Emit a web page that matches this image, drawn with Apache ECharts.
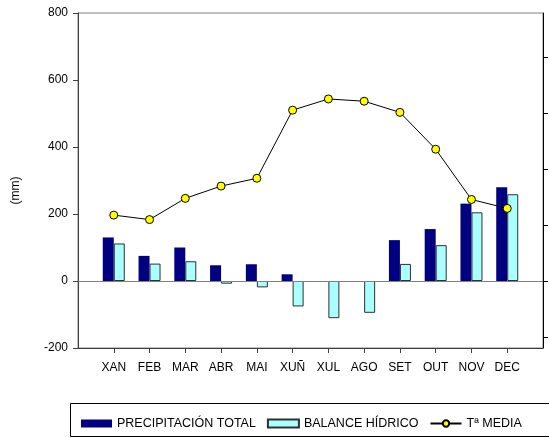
<!DOCTYPE html>
<html>
<head>
<meta charset="utf-8">
<script src="https://cdn.jsdelivr.net/npm/echarts@6/dist/echarts.min.js"></script>
<style>html,body{margin:0;padding:0;background:#fff;}#c{width:549px;height:438px;}</style>
</head>
<body>
<div id="c"></div>
<script>
const months = ['XAN','FEB','MAR','ABR','MAI','XUÑ','XUL','AGO','SET','OUT','NOV','DEC'];
const precipitacion = [130, 75, 100, 47, 50, 20, 0, 0, 122, 155, 231, 280];
const balance = [112, 52, 59, -8, -19, -76, -111, -95, 51, 107, 205, 259];
const temperatura = [5.9, 5.5, 7.4, 8.5, 9.2, 15.3, 16.3, 16.1, 15.1, 11.8, 7.3, 6.5];
const leftTicks = [-200, 0, 200, 400, 600, 800];
const rightTicks = [-5, 0, 5, 10, 15, 20];

const pad = a => [null].concat(a, [null]);
const cats = [''].concat(months, ['']);
const font = 'Liberation Sans, Arial, sans-serif';

const chart = echarts.init(document.getElementById('c'), null, {renderer: 'canvas'});
chart.setOption({
  animation: false,
  backgroundColor: '#fff',
  textStyle: {fontFamily: font, color: '#000'},
  grid: {left: 78, right: 6, top: 13, bottom: 90, show: true, borderColor: '#808080', borderWidth: 1},
  legend: {
    left: 76, top: 412, itemWidth: 31, itemHeight: 8, itemGap: 11,
    textStyle: {fontSize: 12.5, color: '#000', fontFamily: font},
    data: [
      {name: 'PRECIPITACIÓN TOTAL', icon: 'rect'},
      {name: 'BALANCE HÍDRICO', icon: 'rect'},
      {name: 'Tª MEDIA'}
    ]
  },
  graphic: [{
    type: 'rect', silent: true,
    shape: {x: 70.5, y: 403.5, width: 600, height: 33},
    style: {fill: null, stroke: '#000', lineWidth: 1}
  }],
  xAxis: {
    type: 'category', data: cats, boundaryGap: false,
    axisLine: {onZero: false, lineStyle: {color: '#404040', width: 1}},
    axisTick: {length: 5, interval: (i) => i > 0 && i < cats.length - 1, lineStyle: {color: '#404040'}},
    axisLabel: {interval: 0, fontSize: 12, color: '#000', margin: 14},
    splitLine: {show: false}
  },
  yAxis: [{
    type: 'value', min: -200, max: 800, interval: 200,
    name: '(mm)', nameLocation: 'middle', nameGap: 56, nameRotate: 90,
    nameTextStyle: {fontSize: 12, color: '#000', padding: [0, 20, 0, 0]},
    axisLine: {show: true, lineStyle: {color: '#404040'}},
    axisTick: {show: true, length: 5, lineStyle: {color: '#404040'}},
    axisLabel: {fontSize: 12, color: '#000', margin: 10},
    splitLine: {show: false}
  }, {
    type: 'value', min: -6, max: 24, position: 'right',
    axisLine: {show: true, lineStyle: {color: '#000'}},
    axisTick: {show: true, length: 5, customValues: rightTicks, lineStyle: {color: '#000'}},
    axisLabel: {show: false},
    splitLine: {show: false}
  }],
  series: [{
    name: 'PRECIPITACIÓN TOTAL', type: 'bar', data: pad(precipitacion),
    barWidth: 11, barGap: '0%',
    itemStyle: {color: '#000080', borderWidth: 0},
    markLine: {
      silent: true, symbol: 'none', label: {show: false},
      lineStyle: {color: '#808080', width: 1, type: 'solid'},
      data: [{yAxis: 0}]
    }
  }, {
    name: 'BALANCE HÍDRICO', type: 'bar', data: pad(balance),
    barWidth: 11, barGap: '0%',
    itemStyle: {color: '#aaffff', borderColor: '#303030', borderWidth: 1}
  }, {
    name: 'Tª MEDIA', type: 'line', yAxisIndex: 1, data: pad(temperatura),
    symbol: 'circle', symbolSize: 8,
    lineStyle: {color: '#000', width: 1},
    itemStyle: {color: '#ffff00', borderColor: '#000', borderWidth: 1},
    z: 5
  }]
});
</script>
</body>
</html>
